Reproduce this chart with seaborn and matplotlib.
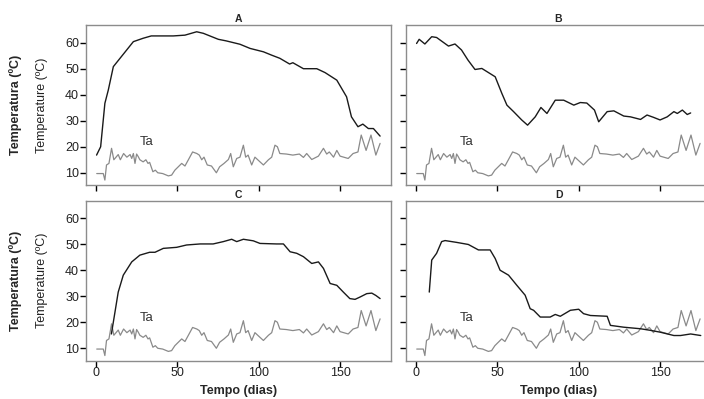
import pandas as pd
import matplotlib
matplotlib.use('Agg')
import matplotlib.pyplot as plt
import seaborn as sns

# ambient temperature (Ta), same for all four piles
ta_day = [0.5, 4.5, 5.5, 6.5, 8, 9.6, 11, 13.7, 15, 17, 19, 21, 22, 23, 24, 25, 26, 27, 29, 30.7,
          32, 33, 35, 36.5, 38, 41, 44.5, 46.5, 48.5, 50.6, 52.7, 54.7, 56.8, 59.4, 62, 63.5, 65,
          66.4, 68.4, 71, 74, 76, 78.7, 81.4, 82.8, 84.4, 86.5, 88.5, 90.6, 92, 93.5, 95.7, 97.7,
          100.8, 102.9, 106, 108, 110, 111.5, 113, 117, 121, 125, 127.5, 129.5, 132.6, 136.7,
          139.8, 141.8, 143.4, 146, 148, 150, 155, 158, 161, 163, 166, 169, 172, 174.6]
ta_val = [9.7, 9.7, 7.2, 13, 13.6, 19.4, 15, 17, 15, 17.4, 16, 17, 15.5, 17.4, 13.6, 17.2, 16.2, 15,
          14.2, 15, 13.6, 14, 10.4, 11, 10, 9.7, 8.8, 9.1, 11, 12.3, 13.6, 12.6, 15, 18, 17.4, 16.8,
          15, 16, 13, 12.6, 10, 12.3, 13.6, 15.1, 17.4, 12.3, 15.5, 16, 20.6, 16, 16.8, 13, 16,
          14.2, 13, 15, 16, 20.6, 20, 17.4, 17.2, 16.8, 17.2, 15.9, 17.4, 15.1, 16.4, 19.4, 17.2,
          18, 16, 18.6, 16.4, 15.5, 17.4, 18, 24.5, 18.6, 24.5, 16.8, 21.3]

# compost pile temperatures
a_day = [0.4, 2.9, 5.5, 7.6, 10.7, 14.8, 18.9, 23, 29, 34, 39, 47.5, 54.7, 61.9, 66, 75.2, 80,
         88.5, 94.7, 102.9, 108, 113, 119, 121, 127.5, 135.7, 140.8, 148, 154, 157, 161, 164,
         167.4, 170.5, 174.6]
a_val = [16.8, 20, 36.7, 41.8, 50.8, 54, 57.2, 60.4, 61.7, 62.6, 62.6, 62.6, 62.9, 64.2, 63.6,
         61.3, 60.7, 59.4, 57.8, 56.5, 55.2, 54, 51.8, 52.3, 50, 50, 48.5, 45.6, 39.2, 31.5, 27.7,
         28.7, 27, 27, 24.1]

b_day = [0.4, 2, 5.5, 9.7, 12.7, 20, 24, 28, 32, 36.3, 40.5, 48.7, 52.8, 55.9, 60, 65, 68.6,
         73.3, 76.8, 80.5, 85.6, 90.8, 97, 101, 105, 109.7, 112.3, 117.5, 121.6, 127.7, 131.8,
         138, 142, 146, 150, 154.4, 158.5, 160.6, 163.7, 166.7, 168.8]
b_val = [59.7, 61.3, 59.5, 62.3, 62, 58.7, 59.5, 57.2, 53.3, 49.7, 50.1, 46.9, 40.5, 36, 33.5,
         30.3, 28.3, 31.5, 35.1, 32.8, 37.9, 37.9, 36, 37, 36.8, 34.1, 29.6, 33.5, 33.8, 31.8,
         31.5, 30.5, 32.2, 31.3, 30.3, 31.5, 33.5, 32.8, 34.1, 32.4, 33]

c_day = [9.5, 11.7, 13.7, 16.8, 22, 27, 33, 36.3, 41.4, 49.6, 55.7, 64, 72, 78.3, 83.4, 86.5,
         90.6, 96.7, 100.8, 111, 115.2, 119.3, 123.4, 127.5, 132.6, 136.7, 139.8, 143.9, 148,
         152, 156, 159.2, 162.3, 166.4, 169.5, 172, 174.6]
c_val = [15.5, 23.9, 31.6, 38.1, 43.2, 45.8, 46.9, 46.9, 48.4, 48.8, 49.7, 50.1, 50.1, 51, 51.9,
         51, 51.9, 51.3, 50.3, 50.1, 50.1, 47.1, 46.5, 45.2, 42.6, 43.2, 40.7, 34.9, 34.2, 31.6,
         29.1, 28.8, 29.7, 31, 31.2, 30.3, 29.1]

d_day = [8.2, 9.7, 12.7, 15.8, 17.9, 25, 32.2, 38.4, 45.6, 48.7, 51.7, 56.9, 62, 67.1, 70.2,
         72.3, 76.4, 82.5, 85.6, 88.7, 94.9, 100, 103, 107.2, 117.5, 119.5, 127.7, 138, 144,
         150, 158.5, 162.6, 168.8, 175]
d_val = [31.6, 43.9, 46.5, 51, 51.4, 50.7, 49.9, 47.8, 47.8, 44.5, 40, 38.1, 34.2, 30.4, 25.2,
         24.6, 22, 22, 23, 22.3, 24.6, 25, 23.3, 22.6, 22.3, 18.8, 18.1, 17.5, 16.9, 16.2, 14.9,
         14.9, 15.5, 14.9]

panels = {'A': (a_day, a_val), 'B': (b_day, b_val), 'C': (c_day, c_val), 'D': (d_day, d_val)}

sns.set_style('white')
plt.rcParams['font.family'] = ['Liberation Sans', 'DejaVu Sans']

W, H = 704, 399
fig = plt.figure(figsize=(W / 100, H / 100), dpi=100)

# pixel boxes (left, top) for each panel, all 305 x 160
boxes = {'A': (86, 25), 'B': (406, 25), 'C': (86, 200.5), 'D': (406, 200.5)}
pw, ph = 305, 160

ta = pd.DataFrame({'dia': ta_day, 'temp': ta_val})

for name, (days, vals) in panels.items():
    left, top = boxes[name]
    ax = fig.add_axes([left / W, (H - top - ph) / H, pw / W, ph / H])
    pile = pd.DataFrame({'dia': days, 'temp': vals})
    sns.lineplot(data=ta, x='dia', y='temp', color='#8a8a8a', lw=0.9, ax=ax)
    sns.lineplot(data=pile, x='dia', y='temp', color='#1a1a1a', lw=1.0, ax=ax)
    ax.text(31, 21.8, 'Ta', fontsize=9.5, color='#333333', ha='center', va='center')
    ax.set_xlim(-6.1, 181.3)
    ax.set_ylim(5.3, 66.8)
    ax.set_xticks([0, 50, 100, 150])
    ax.set_yticks([10, 20, 30, 40, 50, 60])
    ax.set_xlabel('')
    ax.set_ylabel('')
    ax.set_title(name, fontsize=7.5, fontweight='bold', pad=2)
    for sp in ax.spines.values():
        sp.set_color('#8c8c8c')
        sp.set_linewidth(1.0)
    ax.tick_params(axis='both', direction='out', length=4, width=1, color='black',
                   labelsize=9, pad=1, labelcolor='#222222')
    ax.tick_params(left=True, bottom=True)
    if name in ('A', 'B'):
        ax.set_xticklabels([])
    else:
        ax.set_xlabel('Tempo (dias)', fontsize=9, fontweight='bold', labelpad=4)
    if name in ('B', 'D'):
        ax.set_yticklabels([])

for top in (25, 200.5):
    yc = 1 - (top + ph / 2) / H
    fig.text(16 / W, yc, 'Temperatura (ºC)', rotation=90, fontsize=9, fontweight='bold',
             ha='center', va='center')
    fig.text(42 / W, yc, 'Temperature (ºC)', rotation=90, fontsize=9,
             ha='center', va='center', color='#222222')

fig.savefig('out.png', dpi=100)
